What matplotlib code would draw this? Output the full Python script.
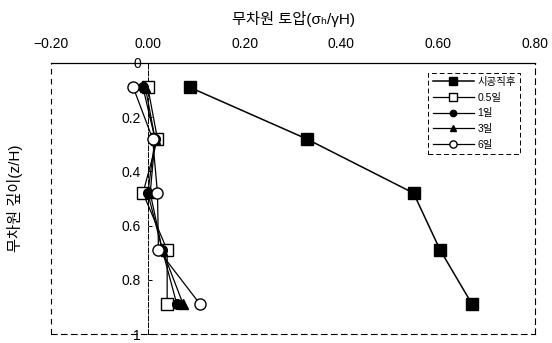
import matplotlib
matplotlib.use("Agg")
import matplotlib.pyplot as plt

plt.rcParams['font.family'] = ['Liberation Sans', 'Noto Sans CJK KR', 'DejaVu Sans']

# depth ratio z/H of the measuring points
depth = [0.09, 0.28, 0.48, 0.69, 0.89]

# dimensionless earth pressure sigma_h / (gamma H) per elapsed time
p_initial = [0.087, 0.328, 0.549, 0.604, 0.670]
p_day05 = [0.000, 0.020, -0.010, 0.040, 0.040]
p_day1 = [-0.010, 0.015, 0.000, 0.030, 0.060]
p_day3 = [-0.005, 0.015, 0.005, 0.030, 0.073]
p_day6 = [-0.030, 0.010, 0.020, 0.022, 0.108]

labels = ['시공직후', '0.5일', '1일', '3일', '6일']
xticks = [-0.2, 0.0, 0.2, 0.4, 0.6, 0.8]
xticklabels = ['\u22120.20', '0.00', '0.20', '0.40', '0.60', '0.80']
yticks = [0, 0.2, 0.4, 0.6, 0.8, 1]
yticklabels = ['0', '0.2', '0.4', '0.6', '0.8', '1']

fig = plt.figure(figsize=(5.52, 3.43), dpi=100)
ax = fig.add_axes([51 / 552, 9 / 343, 484 / 552, 271 / 343])

ax.plot(p_initial, depth, '-s', color='black', lw=1.1, ms=9,
        mfc='black', mec='black', label=labels[0], zorder=3)
ax.plot(p_day05, depth, '-s', color='black', lw=0.9, ms=8,
        mfc='white', mec='black', label=labels[1], zorder=4)
ax.plot(p_day1, depth, '-o', color='black', lw=0.9, ms=7,
        mfc='black', mec='black', label=labels[2], zorder=5)
ax.plot(p_day3, depth, '-^', color='black', lw=0.9, ms=7.5,
        mfc='black', mec='black', label=labels[3], zorder=6)
ax.plot(p_day6, depth, '-o', color='black', lw=0.9, ms=8,
        mfc='white', mec='black', label=labels[4], zorder=7)

ax.set_xlim(-0.2, 0.8)
ax.set_ylim(1, 0)

# x axis on top
ax.xaxis.tick_top()
ax.xaxis.set_label_position('top')
ax.set_xticks(xticks)
ax.set_xticklabels(xticklabels)
ax.tick_params(axis='x', length=0, pad=9, labelsize=10)
ax.set_xlabel('무차원 토압(σₕ/γH)', fontsize=11, labelpad=9)

# y axis drawn through x = 0
ax.spines['left'].set_position(('data', 0))
ax.spines['left'].set_linestyle((0, (5, 2)))
ax.spines['left'].set_linewidth(0.7)
ax.set_yticks(yticks)
ax.set_yticklabels(yticklabels)
ax.tick_params(axis='y', direction='in', length=3, width=0.7, pad=5, labelsize=10)
ax.set_ylabel('무차원 깊이(z/H)', fontsize=11)
ax.yaxis.set_label_coords(-0.058, 0.5)

# outer frame
ax.spines['top'].set_linewidth(0.9)
for side in ['right', 'bottom']:
    ax.spines[side].set_linestyle((0, (5, 4)))
    ax.spines[side].set_linewidth(0.8)
ax.plot([0, 0], [0, 1], transform=ax.transAxes, color='black',
        lw=0.8, ls=(0, (5, 4)), clip_on=False)

leg = ax.legend(loc='upper right', bbox_to_anchor=(0.969, 0.964),
                borderaxespad=0, fontsize=7.5, markerscale=0.65,
                handlelength=4.0, handletextpad=0.3, labelspacing=0.55,
                fancybox=False, edgecolor='black', framealpha=1,
                borderpad=0.4)
leg.get_frame().set_linestyle((0, (5, 3)))
leg.get_frame().set_linewidth(0.7)

fig.savefig('out.png', dpi=100)
